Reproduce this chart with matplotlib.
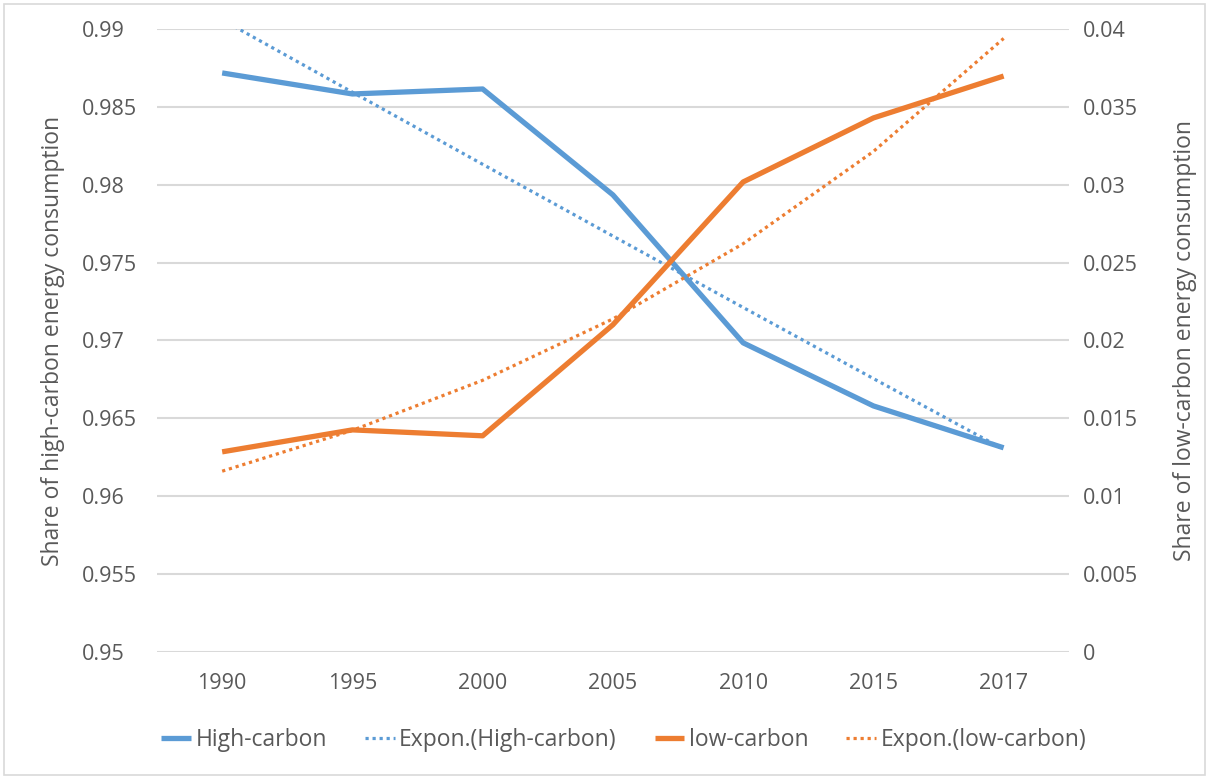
import numpy as np
import matplotlib.pyplot as plt
from matplotlib.ticker import FuncFormatter

years = ["1990", "1995", "2000", "2005", "2010", "2015", "2017"]
high_carbon = [0.98718, 0.98583, 0.98615, 0.97935, 0.96985, 0.96580, 0.96311]
low_carbon = [0.01285, 0.01426, 0.01388, 0.02101, 0.03018, 0.03429, 0.03698]

blue = "#5B9BD5"
orange = "#ED7D31"
grey = "#595959"

plt.rcParams["font.family"] = ["Open Sans", "DejaVu Sans"]

x = np.arange(len(years))


# exponential trendline on category index 1..n (least squares on log values)
def expon_trend(vals):
    k = np.arange(1, len(vals) + 1)
    b, a = np.polyfit(k, np.log(vals), 1)
    return np.exp(a + b * k)


fig = plt.figure(figsize=(12.09, 7.78), dpi=100)
ax = fig.add_axes([0.1299, 0.162, 0.884 - 0.1299, 0.9627 - 0.162])
ax2 = ax.twinx()

l1, = ax.plot(x, high_carbon, color=blue, lw=3.8, solid_capstyle="butt", label="High-carbon")
l2, = ax.plot(x, expon_trend(high_carbon), color=blue, lw=2.3, linestyle=(0, (1, 1.2)),
              label="Expon.(High-carbon)")
l3, = ax2.plot(x, low_carbon, color=orange, lw=3.8, solid_capstyle="butt", label="low-carbon")
l4, = ax2.plot(x, expon_trend(low_carbon), color=orange, lw=2.3, linestyle=(0, (1, 1.2)),
               label="Expon.(low-carbon)")

ax.set_xlim(-0.5, len(years) - 0.5)
ax.set_ylim(0.95, 0.99)
ax2.set_ylim(0, 0.04)
ax.set_yticks(np.linspace(0.95, 0.99, 9))
ax2.set_yticks(np.linspace(0, 0.04, 9))
fmt = FuncFormatter(lambda v, p: "%g" % round(v, 4))
ax.yaxis.set_major_formatter(fmt)
ax2.yaxis.set_major_formatter(fmt)
ax.set_xticks(x)
ax.set_xticklabels(years)

ax.grid(axis="y", color="#D9D9D9", lw=1.5)
ax.set_axisbelow(True)
for a in (ax, ax2):
    for s in a.spines.values():
        s.set_visible(False)
    a.tick_params(length=0, labelsize=15.5, labelcolor=grey)
# left-aligned value labels on the primary axis
ax.tick_params(axis="y", pad=54)
for t in ax.get_yticklabels():
    t.set_ha("left")
ax.tick_params(axis="x", pad=15)
ax2.tick_params(axis="y", pad=10)

ax.set_ylabel("Share of high-carbon energy consumption", fontsize=16.5, color=grey)
ax2.set_ylabel("Share of low-carbon energy consumption", fontsize=16.5, color=grey)
ax.yaxis.set_label_coords(-0.101, 0.5)
ax2.yaxis.set_label_coords(1.114, 0.5)

fig.legend(handles=[l1, l2, l3, l4], loc="center", bbox_to_anchor=(0.516, 0.049), ncol=4,
           frameon=False, fontsize=16.5, labelcolor=grey, handlelength=1.3, handletextpad=0.2,
           columnspacing=1.65)

# light chart border
fig.patches.append(plt.Rectangle((0.003, 0.004), 0.994, 0.991, transform=fig.transFigure,
                                 fill=False, edgecolor="#D9D9D9", lw=1.2))

fig.savefig("out.png", dpi=100)
